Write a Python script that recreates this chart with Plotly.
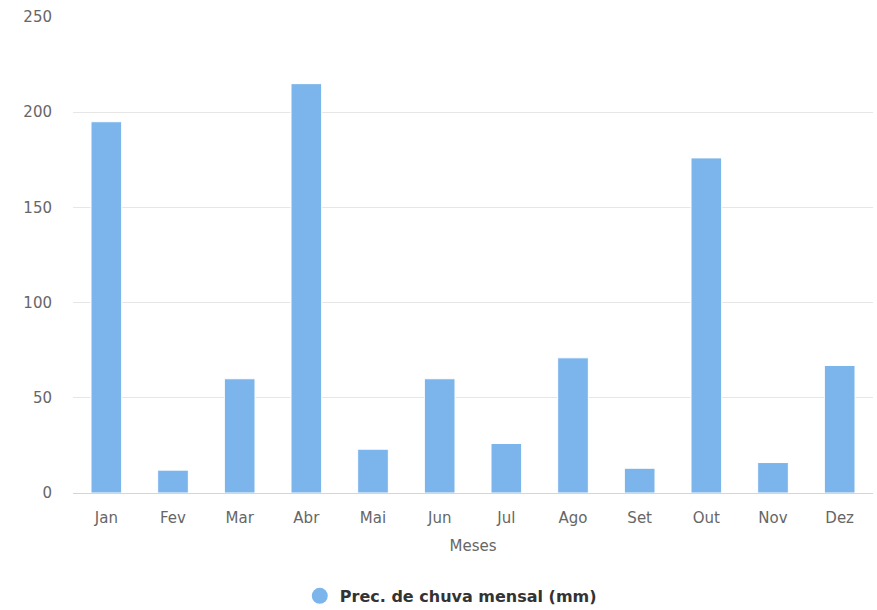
import plotly.graph_objects as go

meses = ["Jan", "Fev", "Mar", "Abr", "Mai", "Jun", "Jul", "Ago", "Set", "Out", "Nov", "Dez"]
precipitacao = [195, 12, 60, 215, 23, 60, 26, 71, 13, 176, 16, 67]
serie_nome = "Prec. de chuva mensal (mm)"
y_ticks = [0, 50, 100, 150, 200, 250]

cor = "#7cb5ec"
fonte = "DejaVu Sans, Lucida Grande, sans-serif"

fig = go.Figure()
fig.add_trace(go.Bar(
    x=meses, y=precipitacao, name=serie_nome,
    marker=dict(color=cor, line=dict(color="white", width=1)),
    showlegend=False,
))
# legend entry with a round symbol
fig.add_trace(go.Scatter(
    x=[None], y=[None], mode="markers", name=serie_nome,
    marker=dict(color=cor, size=16, symbol="circle"),
))

fig.update_layout(
    width=877, height=610,
    margin=dict(l=73, r=4, t=17, b=117, autoexpand=False),
    paper_bgcolor="white", plot_bgcolor="white",
    font=dict(family=fonte, color="#666666", size=15),
    bargap=0.54,
    showlegend=True,
    legend=dict(
        orientation="h", xref="container", yref="container",
        x=0.514, xanchor="center", y=0.023, yanchor="middle",
        font=dict(family=fonte, color="#333333", size=16, weight="bold"),
        itemsizing="trace",
    ),
    xaxis=dict(
        title=dict(text="Meses", font=dict(size=15, color="#666666"), standoff=14),
        showgrid=False, showline=True, linecolor="#ccd6eb", linewidth=1,
        ticks="", ticklabelstandoff=11,
        tickfont=dict(size=15, color="#666666"),
    ),
    yaxis=dict(
        range=[0, 250], tickvals=y_ticks,
        showgrid=True, gridcolor="#e6e6e6", gridwidth=1,
        zeroline=False, showline=False,
        ticks="", ticklabelstandoff=20,
        tickfont=dict(size=15, color="#666666"),
    ),
)

fig.write_html("out.html")
